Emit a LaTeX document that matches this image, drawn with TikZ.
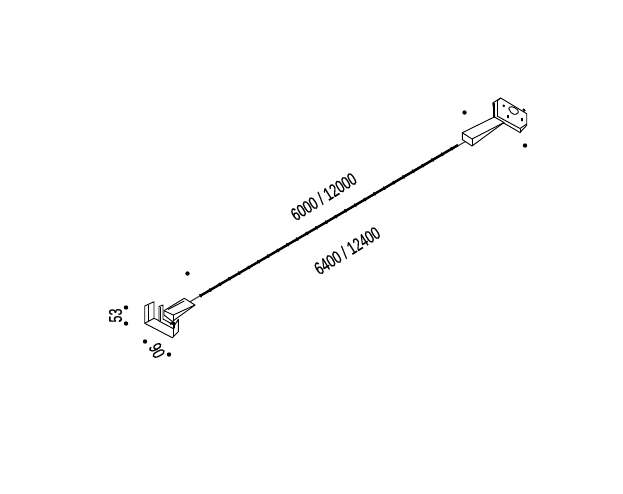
\documentclass[tikz,border=0pt]{standalone}
\usepackage{fontspec}
\usepackage{graphicx}
\setmainfont{Liberation Sans}
\newfontfamily\lblfont{Liberation Sans}[FakeBold=0.2]
\tikzset{
  lbl/.style={inner sep=0pt,font=\fontsize{18.5}{19}\lblfont},
  dimdot/.style={circle,fill=black,inner sep=0pt,minimum size=4.4pt},
  part/.style={draw=black,line width=0.9pt,line join=round,fill=white},
  edge/.style={draw=black,line width=0.9pt,line join=round},
  heavy/.style={draw=black,line width=1.8pt},
  strip/.style={draw=black,line width=2.4pt},
  leds/.style={draw=black,line width=3.6pt,dash pattern=on 1.2pt off 10pt},
  wire/.style={draw=black!75,line width=1.2pt}
}
\newcommand{\cond}[1]{\scalebox{0.68}[1]{#1}}
\begin{document}
\begin{tikzpicture}[x=1pt,y=-1pt]
\useasboundingbox (0,0) rectangle (623,493);
\fill[white] (0,0) rectangle (623,493);
% strip
\coordinate (sL) at (200,296);
\coordinate (sR) at (458,145);
\coordinate (wL) at (186,304);
\coordinate (wR) at (468,140);
\draw[wire] (wL) -- (wR);
\draw[strip] (sL) -- (sR);
\draw[leds] (sL) -- (sR);
% left end
\draw[part] (144.7,306) -- (154,301.7) -- (154,318.3) -- (173.3,327.3) -- (178.3,319.3) -- (178.3,331.7) -- (172.3,337.7) -- (144.7,323.3) -- cycle;
\draw[edge] (148.3,304.5) -- (148.3,321.5);
\draw[edge] (144.7,323.3) -- (154,318.3);
\draw[edge] (173,327.5) -- (173,337);
\draw[part] (159,306.5) -- (163,305) -- (163,319) -- (174,325) -- (174,329) -- (159,321) -- cycle;
\draw[heavy] (160.5,307) -- (160.5,321);
\draw[part] (164,310.7) -- (184.3,298.3) -- (195,305) -- (172.3,321.5) -- (164,315) -- cycle;
\draw[edge] (164,310.7) -- (173.3,315) -- (195,305);
\draw[edge] (173.3,315) -- (173.3,320.5);
\draw[edge] (168,309.5) -- (184.3,301);
\draw[heavy] (174,322) -- (174,328);
\draw[heavy] (170,324) -- (174,322);
% right end
\draw[part] (492.7,103) -- (500.7,98) -- (526.7,113.7) -- (526.7,125.3) -- (520,132.5) -- (495,118) -- cycle;
\draw[heavy] (493.8,103) -- (493.8,117);
\draw[edge] (497,101) -- (497,116);
\draw[edge] (500.7,98) -- (497,101);
\draw[edge] (497,116) -- (520,128.5) -- (526.7,124);
\draw[edge] (520,128.5) -- (520,132.5);
\draw[edge,rounded corners=1.5pt] (508,107.5) -- (513,106.5) -- (519,111) -- (517,114.5) -- (512,114) -- cycle;
\draw[heavy] (503,105) -- (504.5,106.5) (523,109) -- (525,111) (508,115) -- (508,118) (522,118) -- (522,121);
\draw[part] (462.3,132.7) -- (494.3,117) -- (504,122.5) -- (472,146) -- (462.3,139.5) -- cycle;
\draw[edge] (462.3,132.7) -- (472,139) -- (504,122.5);
\draw[edge] (472,139) -- (472,146);
% dimension dots
\node[dimdot] (d1) at (187.5,273.5) {};
\node[dimdot] (d2) at (126,307.5) {};
\node[dimdot] (d3) at (126,323.5) {};
\node[dimdot] (d4) at (145,341.5) {};
\node[dimdot] (d5) at (169,354.5) {};
\node[dimdot] (d6) at (464.5,112.5) {};
\node[dimdot] (d7) at (525,145.5) {};
% labels
\node[lbl,rotate=32] (t1) at (323.5,196.5) {\cond{6000 / 12000}};
\node[lbl,rotate=32] (t2) at (347,250.5) {\cond{6400 / 12400}};
\node[lbl,rotate=90] (t3) at (115.5,315.5) {\cond{53}};
\node[lbl,rotate=-62] (t4) at (157,350.5) {\cond{90}};
\end{tikzpicture}
\end{document}
